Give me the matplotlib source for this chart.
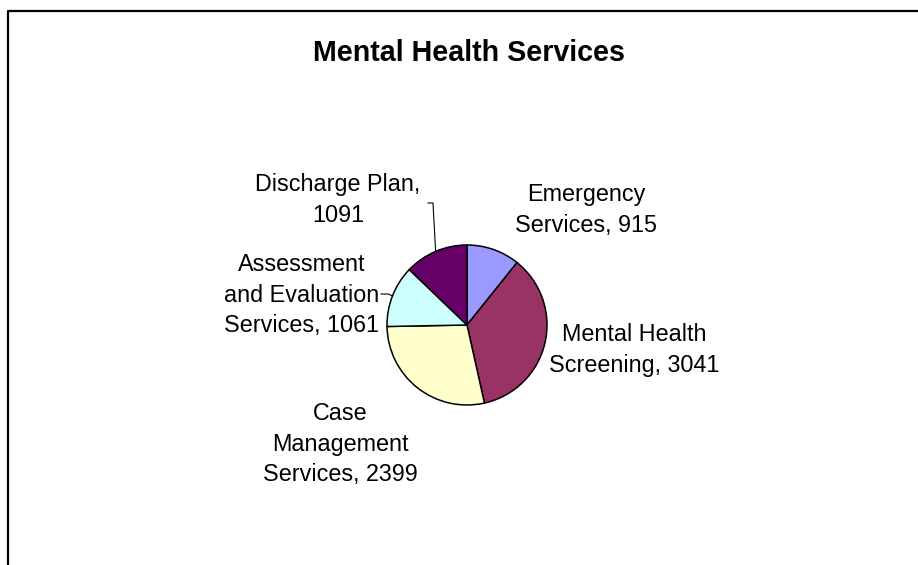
import numpy as np
import matplotlib
matplotlib.use("Agg")
import matplotlib.pyplot as plt
from matplotlib.lines import Line2D

plt.rcParams["font.family"] = ["Liberation Sans", "DejaVu Sans"]

# Mental health services, counts
services = ["Emergency Services", "Mental Health Screening", "Case Management Services",
            "Assessment and Evaluation Services", "Discharge Plan"]
counts = [915, 3041, 2399, 1061, 1091]
label_fmt = ["Emergency\nServices, {}", "Mental Health\nScreening, {}",
             "Case\nManagement\nServices, {}", "Assessment\nand Evaluation\nServices, {}",
             "Discharge Plan,\n{}"]
colors = ["#9999FF", "#993366", "#FFFFCC", "#CCFFFF", "#660066"]

W, H = 918, 565
def py(y):  # pixel row (top origin) -> data y
    return H - y

# layout (pixels, top origin)
label_pos = [(586, 210), (634, 350), (340, 444), (302, 295), (338, 200)]
leaders = {4: [(428, 203), (433, 203)], 3: [(381, 294), (388, 294)]}
cx, cy, r = 467, 325, 80

fig = plt.figure(figsize=(W / 100, H / 100), dpi=100)
ax = fig.add_axes([0, 0, 1, 1])
wedges, _ = ax.pie(counts, colors=colors, startangle=90, counterclock=False,
                   center=(cx, py(cy)), radius=r,
                   wedgeprops=dict(edgecolor="black", linewidth=1.1))
ax.set_xlim(0, W)
ax.set_ylim(0, H)
ax.set_aspect("auto")
ax.axis("off")

for i, (fmt, n) in enumerate(zip(label_fmt, counts)):
    x, y = label_pos[i]
    ax.text(x, py(y), fmt.format(n), ha="center", va="center", fontsize=16.8,
            linespacing=1.42)

for i, pts in leaders.items():
    w = wedges[i]
    mid = np.deg2rad((w.theta1 + w.theta2) / 2)
    ex, ey = cx + r * np.cos(mid), py(cy) + r * np.sin(mid)
    xs = [p[0] for p in pts] + [ex]
    ys = [py(p[1]) for p in pts] + [ey]
    ax.plot(xs, ys, color="black", lw=0.8)

ax.text(469, py(53), "Mental Health Services", ha="center", va="center",
        fontsize=20.6, fontweight="bold")

# chart frame (left and top edges visible)
fig.add_artist(Line2D([8 / W, 8 / W, 1], [0, 1 - 11 / H, 1 - 11 / H],
                      transform=fig.transFigure, color="black", lw=1.6))

plt.savefig("out.png", dpi=100)
